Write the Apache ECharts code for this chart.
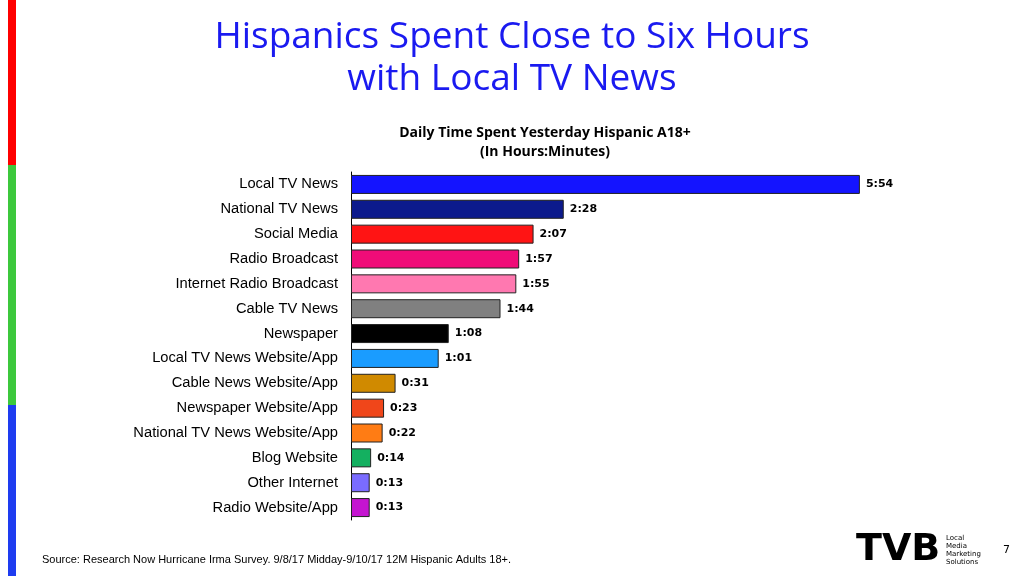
<!doctype html>
<html>
<head>
<meta charset="utf-8">
<title>Hispanics Local TV News</title>
<script src="https://cdn.jsdelivr.net/npm/echarts@6/dist/echarts.min.js"></script>
<style>html,body{margin:0;padding:0;background:#fff}#main{width:1024px;height:576px}</style>
</head>
<body>
<div id="main"></div>
<script type="text/javascript">
var categories = ['Local TV News', 'National TV News', 'Social Media', 'Radio Broadcast', 'Internet Radio Broadcast',
  'Cable TV News', 'Newspaper', 'Local TV News Website/App', 'Cable News Website/App', 'Newspaper Website/App',
  'National TV News Website/App', 'Blog Website', 'Other Internet', 'Radio Website/App']
// minutes per day
var minutes = [354, 148, 127, 117, 115, 104, 68, 61, 31, 23, 22, 14, 13, 13]
var colors = ['#1414ff', '#0c1a8c', '#ff1414', '#f00c78', '#ff78b0', '#808080', '#000000',
  '#1a9cff', '#d08a00', '#f0461a', '#ff7c14', '#14b060', '#7a6cff', '#c414d0']

function hm(v) {
  var m = v % 60
  return Math.floor(v / 60) + ':' + (m < 10 ? '0' + m : m)
}

var myChart = echarts.init(document.getElementById('main'))
var option = {
  animation: false,
  textStyle: { fontFamily: 'Liberation Sans' },
  graphic: [
    { type: 'rect', shape: { x: 8, y: 0, width: 8, height: 165 }, style: { fill: '#ff0000' } },
    { type: 'rect', shape: { x: 8, y: 165, width: 8, height: 240 }, style: { fill: '#3cc83c' } },
    { type: 'rect', shape: { x: 8, y: 405, width: 8, height: 171 }, style: { fill: '#1e3cf0' } },
    { type: 'text', left: 'center', top: 16, style: { text: 'Hispanics Spent Close to Six Hours\nwith Local TV News',
      fill: '#1a1af0', font: '37px "Open Sans"', textAlign: 'center', lineHeight: 42 } },
    { type: 'text', x: 545, y: 124, style: { text: 'Daily Time Spent Yesterday Hispanic A18+\n(In Hours:Minutes)',
      fill: '#000', font: 'bold 14px "Open Sans"', textAlign: 'center', lineHeight: 19 } },
    { type: 'text', x: 42, y: 554, style: { text: 'Source: Research Now Hurricane Irma Survey. 9/8/17 Midday-9/10/17 12M Hispanic Adults 18+.',
      fill: '#000', font: '11px "Liberation Sans"' } },
    { type: 'text', x: 1003, y: 545, style: { text: '7', fill: '#000', font: '11px "DejaVu Sans"' } },
    { type: 'text', x: 856, y: 531, style: { text: 'TVB', fill: '#000', font: 'bold 38px "DejaVu Sans"' } },
    { type: 'text', x: 946, y: 534, style: { text: 'Local\nMedia\nMarketing\nSolutions', fill: '#000',
      font: '7px "DejaVu Sans"', lineHeight: 8 } }
  ],
  grid: { left: 351, right: 98, top: 172, bottom: 56 },
  xAxis: { type: 'value', min: 0, max: 400, show: false },
  yAxis: {
    type: 'category', inverse: true, data: categories,
    axisLine: { lineStyle: { color: '#000' } },
    axisTick: { show: false },
    axisLabel: { color: '#000', fontSize: 14.7, margin: 13, fontFamily: 'Liberation Sans' }
  },
  series: [{
    type: 'bar', barWidth: 19,
    data: minutes.map(function (v, i) {
      return { value: v, itemStyle: { color: colors[i], borderColor: '#222', borderWidth: 1 } }
    }),
    label: { show: true, position: 'right', distance: 6, color: '#000', fontWeight: 'bold', fontSize: 11,
      fontFamily: 'DejaVu Sans', formatter: function (p) { return hm(p.value) } }
  }]
}
myChart.setOption(option)
</script>
</body>
</html>
